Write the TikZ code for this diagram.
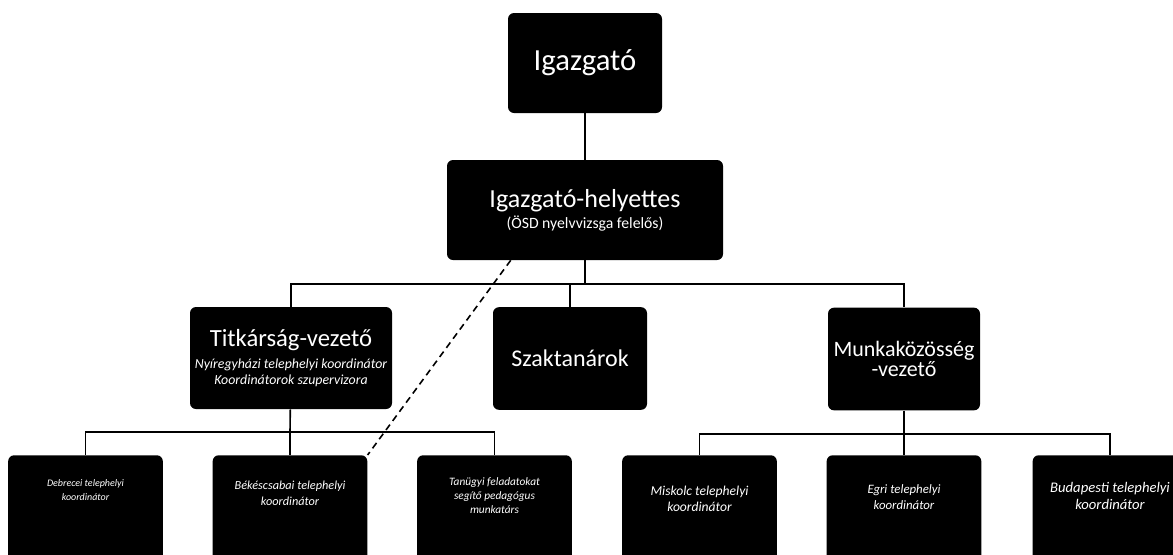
\documentclass[tikz,border=0pt]{standalone}
\usepackage{fontspec}
\setmainfont{Carlito}
\usepackage{tikz}
\usetikzlibrary{positioning}

\begin{document}
\begin{tikzpicture}[
    x=0.75pt, y=-0.75pt,
    node distance=10pt,
    box/.style={rectangle, fill=black, text=white, rounded corners=4.5pt, align=center, inner sep=0pt},
    lowbox/.style={box, minimum width=116pt, minimum height=90pt, anchor=north},
    lowtext/.style={text=white, align=center, inner sep=0pt},
    line/.style={draw=black, line width=1.2pt}
]
\useasboundingbox (0,0) rectangle (1173,554);
\clip (0,0) rectangle (1173,554);

% Top
\node[box, minimum width=115.5pt, minimum height=75pt, font=\fontsize{23}{27}\selectfont] (dir) at (585,63) {Igazgató};
\node[box, minimum width=207pt, minimum height=75pt] (dep) at (585,210)
    {{\fontsize{19.5}{23}\selectfont Igazgató-helyettes}\\[2pt]{\fontsize{11.8}{13}\selectfont (ÖSD nyelvvizsga felelős)}};

% Middle row
\node[box, minimum width=151.5pt, minimum height=76.5pt] (titk) at (291,358)
    {{\fontsize{18.5}{22}\selectfont Titkárság-vezető}\\[4pt]{\fontsize{10.4}{12}\selectfont\itshape Nyíregyházi telephelyi koordinátor}\\{\fontsize{10.4}{12}\selectfont\itshape Koordinátorok szupervizora}};
\node[box, minimum width=115.5pt, minimum height=77pt, font=\fontsize{18}{21}\selectfont] (szak) at (570,358.5) {Szaktanárok};
\node[box, minimum width=114pt, minimum height=77pt] (munka) at (904,359)
    {{\fontsize{16.5}{20}\selectfont Munkaközösség}\\{\fontsize{16.5}{20}\selectfont -vezető}};

% Bottom row
\node[lowbox] (debr) at (85.5,455) {};
\node[lowbox] (beke) at (290,455) {};
\node[lowbox] (tanu) at (494.5,455) {};
\node[lowbox] (misk) at (699.5,455) {};
\node[lowbox] (egri) at (904,455) {};
\node[lowbox] (buda) at (1110,455) {};

\node[lowtext, below=18pt of debr.north, font=\fontsize{7.5}{11}\selectfont\itshape] (debrtxt) {Debrecei telephelyi\\koordinátor};
\node[lowtext, below=19pt of beke.north, font=\fontsize{9.2}{12}\selectfont\itshape] (beketxt) {Békéscsabai telephelyi\\koordinátor};
\node[lowtext, below=16.5pt of tanu.north, font=\fontsize{8.5}{10.5}\selectfont\itshape] (tanutxt) {Tanügyi feladatokat\\segítő pedagógus\\munkatárs};
\node[lowtext, below=23pt of misk.north, font=\fontsize{10.2}{12}\selectfont\itshape] (misktxt) {Miskolc telephelyi\\koordinátor};
\node[lowtext, below=22pt of egri.north, font=\fontsize{9.6}{12}\selectfont\itshape] (egritxt) {Egri telephelyi\\koordinátor};
\node[lowtext, below=20pt of buda.north, font=\fontsize{11}{13}\selectfont\itshape] (budatxt) {Budapesti telephelyi\\koordinátor};

% Connectors
\coordinate (bus) at (585,284);
\coordinate (busl) at (290,432);
\coordinate (busr) at (904,434);

\draw[line] (dir) -- (dep);
\draw[line] (dep) -- (bus);
\draw[line] (bus) -| (titk);
\draw[line] (bus) -| (szak);
\draw[line] (bus) -| (munka);

\draw[line] (titk) -- (busl);
\draw[line] (busl) -| (debr);
\draw[line] (busl) -| (beke);
\draw[line] (busl) -| (tanu);

\draw[line] (munka) -- (busr);
\draw[line] (busr) -| (misk);
\draw[line] (busr) -| (egri);
\draw[line] (busr) -| (buda);

\draw[line, dash pattern=on 5pt off 3.5pt] ([xshift=48pt]dep.south west) -- (beke.north east);

\end{tikzpicture}
\end{document}
